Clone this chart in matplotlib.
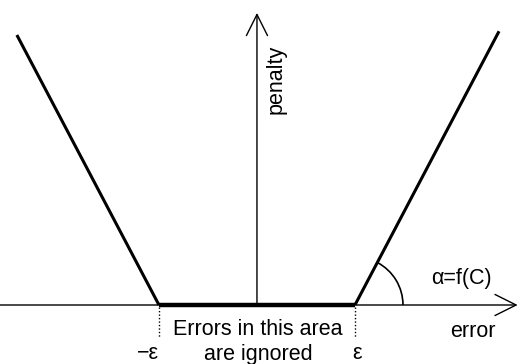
import numpy as np
import matplotlib
matplotlib.use('Agg')
import matplotlib.pyplot as plt
from matplotlib.patches import Arc

plt.rcParams['font.family'] = ['Liberation Sans', 'DejaVu Sans']

# epsilon-insensitive loss, in units of epsilon
eps = 1.0
slope = 1.9
x_err = [-2.45, -eps, eps, 2.47]
penalty = [slope * max(abs(x) - eps, 0) for x in x_err]

fig = plt.figure(figsize=(5.2, 3.64), dpi=100)
ax = fig.add_axes([0, 0, 1, 1])
ax.set_xlim(-2.622, 2.684)
ax.set_ylim(-0.602, 3.112)
ax.axis('off')

# axes with open arrow heads
ax.annotate('', xy=(2.66, 0), xytext=(-2.622, 0),
            arrowprops=dict(arrowstyle='->', lw=1, color='black',
                            mutation_scale=38, shrinkA=0, shrinkB=0))
ax.annotate('', xy=(0, 2.98), xytext=(0, 0),
            arrowprops=dict(arrowstyle='->', lw=1, color='black',
                            mutation_scale=38, shrinkA=0, shrinkB=0))

# loss function
ax.plot(x_err[:2], penalty[:2], color='black', lw=2.2, solid_capstyle='butt')
ax.plot(x_err[2:], penalty[2:], color='black', lw=2.2, solid_capstyle='butt')
ax.plot(x_err[1:3], penalty[1:3], color='black', lw=3.2, solid_capstyle='butt')

# dotted epsilon markers
for xe in (-eps, eps):
    ax.plot([xe, xe], [-0.02, -0.34], color='black', lw=1, ls=(0, (1, 1.5)))

# angle arc
ang = np.degrees(np.arctan(slope))
r = 0.49
ax.add_patch(Arc((eps, 0), 2 * r, 2 * r, theta1=0, theta2=ang,
                 color='black', lw=1.2))

fs = 15.5
ax.text(0.19, 2.3, 'penalty', rotation=90, fontsize=fs, ha='center', va='center')
ax.text(2.2, -0.27, 'error', fontsize=fs, ha='center', va='center')
ax.text(2.09, 0.27, 'α=f(C)', fontsize=fs, ha='center', va='center')
ax.text(0.01, -0.245, 'Errors in this area', fontsize=fs, ha='center', va='center')
ax.text(0.01, -0.5, 'are ignored', fontsize=fs, ha='center', va='center')
ax.text(-1.11, -0.49, '−ε', fontsize=fs, ha='center', va='center')
ax.text(1.02, -0.49, 'ε', fontsize=fs, ha='center', va='center')

fig.savefig('out.png', dpi=100)
